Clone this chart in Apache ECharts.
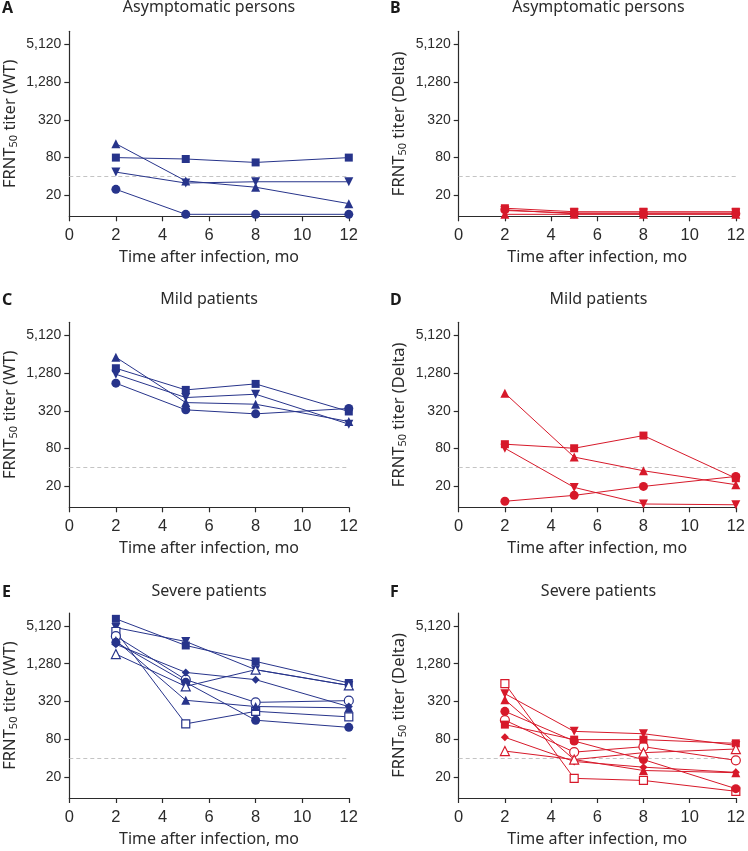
<!DOCTYPE html>
<html><head><meta charset="utf-8">
<script src="https://cdn.jsdelivr.net/npm/echarts@6/dist/echarts.min.js"></script>
<style>html,body{margin:0;padding:0;background:#fff}#c{width:748px;height:851px}</style>
</head><body><div id="c"></div>
<script>
// ---------- labels / ticks ----------
const months = [2, 5, 8, 12];
const yTickValues = [20, 80, 320, 1280, 5120];
const threshold = 40;
const panelLetters = ['A', 'B', 'C', 'D', 'E', 'F'];
const panelTitles = ['Asymptomatic persons', 'Asymptomatic persons', 'Mild patients', 'Mild patients', 'Severe patients', 'Severe patients'];
const variantNames = ['WT', 'Delta'];
const xAxisTitle = 'Time after infection, mo';

// ---------- Panel A (WT, asymptomatic) ----------
const aSquare = [80, 76, 67, 80];
const aTriangle = [133, 34, 27, 14.8];
const aInvTriangle = [47, 31.5, 33, 33];
const aCircle = [25, 10, 10, 10];
// ---------- Panel B (Delta, asymptomatic) ----------
const bSquare = [12.5, 11, 11, 11];
const bTriangle = [10, 10, 10, 10];
const bInvTriangle = [11.5, 10.5, 10.5, 10.5];
const bCircle = [11.8, 10.2, 10.2, 10.2];
// ---------- Panel C (WT, mild) ----------
const cTriangle = [2276, 432, 407, 216];
const cSquare = [1522, 688, 857, 312];
const cInvTriangle = [1222, 520, 587, 196];
const cCircle = [880, 331, 286, 348];
// ---------- Panel D (Delta, mild) ----------
const dTriangle = [610, 58.6, 35.5, 21.3];
const dSquare = [94, 81, 129, 27];
const dInvTriangle = [81, 19.3, 10.5, 10.2];
const dCircle = [11.6, 14.4, 20, 28.8];
// ---------- Panel E (WT, severe) ----------
const eSquare = [6620, 2494, 1390, 630];
const eInvTriangle = [4800, 2886, 1026, 577];
const eSquareOpen = [4158, 141, 223, 182];
const eCircleOpen = [3500, 712, 310, 330];
const eCircle = [2800, 645, 161, 124];
const eDiamond = [2600, 929, 712, 265];
const eTriangle = [3000, 334, 266, 253];
const eTriangleOpen = [1820, 557, 1026, 577];
// ---------- Panel F (Delta, severe) ----------
const fSquareOpen = [615, 19.1, 17.7, 11.9];
const fInvTriangle = [426, 107, 98, 64];
const fTriangle = [342, 38, 25.5, 23.5];
const fCircle = [223, 75, 38, 13.1];
const fCircleOpen = [161, 50, 61, 37];
const fSquare = [137, 79, 79, 69];
const fDiamond = [86, 35.5, 28.8, 23.8];
const fTriangleOpen = [52, 38, 49, 56];

const BLUE = '#27348b';
const RED = '#d7192a';
const SYM = {
  square: 'rect',
  circle: 'circle',
  triangle: 'triangle',
  invTriangle: 'path://M0,0L10,0L5,9Z',
  diamond: 'path://M5,0L10,5L5,10L0,5Z'
};
const SIZE = { square: 8, circle: 9, triangle: 9, invTriangle: 9, diamond: 8 };

const panels = [
  { color: BLUE, series: [[aSquare,'square',false],[aTriangle,'triangle',false],[aInvTriangle,'invTriangle',false],[aCircle,'circle',false]] },
  { color: RED, series: [[bTriangle,'triangle',false],[bCircle,'circle',false],[bInvTriangle,'invTriangle',false],[bSquare,'square',false]] },
  { color: BLUE, series: [[cTriangle,'triangle',false],[cSquare,'square',false],[cInvTriangle,'invTriangle',false],[cCircle,'circle',false]] },
  { color: RED, series: [[dTriangle,'triangle',false],[dSquare,'square',false],[dInvTriangle,'invTriangle',false],[dCircle,'circle',false]] },
  { color: BLUE, series: [[eSquare,'square',false],[eInvTriangle,'invTriangle',false],[eSquareOpen,'square',true],[eCircleOpen,'circle',true],[eCircle,'circle',false],[eDiamond,'diamond',false],[eTriangle,'triangle',false],[eTriangleOpen,'triangle',true]] },
  { color: RED, series: [[fSquareOpen,'square',true],[fInvTriangle,'invTriangle',false],[fTriangle,'triangle',false],[fCircle,'circle',false],[fCircleOpen,'circle',true],[fSquare,'square',false],[fDiamond,'diamond',false],[fTriangleOpen,'triangle',true]] }
];

const LEFTS = [69.3, 458.7];
const GW = 279.5;
const TOPS = [31.3, 322.3, 613];
const GH = 185;
const TITLE_TOPS = [-1, 291, 583.5];
const AXIS_COLOR = '#2b2b2b';
const TEXT_COLOR = '#2b2b2b';
const TICK_FONT = 'Liberation Sans';
const TEXT_FONT = 'Noto Sans';

function fmt(v) { return String(v).replace(/\B(?=(\d{3})+(?!\d))/g, ','); }

const grid = [], xAxis = [], yAxis = [], series = [], title = [];
panels.forEach((p, i) => {
  const col = i % 2, row = Math.floor(i / 2);
  grid.push({ left: LEFTS[col], top: TOPS[row], width: GW, height: GH });
  xAxis.push({
    type: 'value', gridIndex: i, min: 0, max: 12, interval: 2,
    name: xAxisTitle, nameLocation: 'middle', nameGap: 33,
    nameTextStyle: { fontFamily: TEXT_FONT, fontSize: 16, color: TEXT_COLOR },
    axisLine: { lineStyle: { color: AXIS_COLOR, width: 1.2 } },
    axisTick: { length: 5, lineStyle: { color: AXIS_COLOR, width: 1.2 } },
    axisLabel: { margin: 11, fontFamily: TICK_FONT, fontSize: 16.5, color: TEXT_COLOR },
    splitLine: { show: false }
  });
  yAxis.push({
    type: 'log', logBase: 4, gridIndex: i, min: 9.3, max: 8200,
    name: '{a|FRNT}{s|50}{a| titer (' + variantNames[col] + ')}',
    nameLocation: 'middle', nameGap: 50,
    nameTextStyle: {
      rich: {
        a: { fontFamily: TEXT_FONT, fontSize: 16.5, color: TEXT_COLOR },
        s: { fontFamily: TEXT_FONT, fontSize: 11, color: TEXT_COLOR, verticalAlign: 'bottom', padding: [7, 0, 0, 0] }
      }
    },
    axisLine: { show: true, lineStyle: { color: AXIS_COLOR, width: 1.2 } },
    axisTick: { show: true, length: 5, customValues: yTickValues, lineStyle: { color: AXIS_COLOR, width: 1.2 } },
    axisLabel: { margin: 8, customValues: yTickValues, formatter: fmt, fontFamily: TICK_FONT, fontSize: 14, color: TEXT_COLOR },
    splitLine: { show: false }, minorTick: { show: false }
  });
  title.push({
    text: panelTitles[i], left: LEFTS[col] + GW / 2, top: TITLE_TOPS[row], textAlign: 'center', padding: 0,
    textStyle: { fontFamily: TEXT_FONT, fontSize: 16, fontWeight: 'normal', color: TEXT_COLOR }
  });
  title.push({
    text: panelLetters[i], left: col === 0 ? 2 : 390, top: TITLE_TOPS[row] + 1, padding: 0,
    textStyle: { fontFamily: TEXT_FONT, fontSize: 16, fontWeight: 'bold', color: '#1a1a1a' }
  });
  p.series.forEach((s, k) => {
    const [vals, shape, hollow] = s;
    const ser = {
      type: 'line', xAxisIndex: i, yAxisIndex: i,
      data: months.map((m, j) => [m, vals[j]]),
      symbol: SYM[shape], symbolSize: SIZE[shape], showAllSymbol: true,
      lineStyle: { color: p.color, width: 1 },
      itemStyle: hollow ? { color: '#fff', borderColor: p.color, borderWidth: 1.2 } : { color: p.color, borderWidth: 0 },
      emphasis: { disabled: true }, z: 3
    };
    if (k === 0) {
      ser.markLine = {
        silent: true, symbol: 'none', label: { show: false }, z: 1,
        lineStyle: { type: [4, 3], color: '#c4c4c4', width: 1 },
        data: [{ yAxis: threshold }]
      };
    }
    series.push(ser);
  });
});

const chart = echarts.init(document.getElementById('c'), null, { renderer: 'canvas' });
chart.setOption({ animation: false, backgroundColor: '#fff', title, grid, xAxis, yAxis, series });
</script>
</body></html>
